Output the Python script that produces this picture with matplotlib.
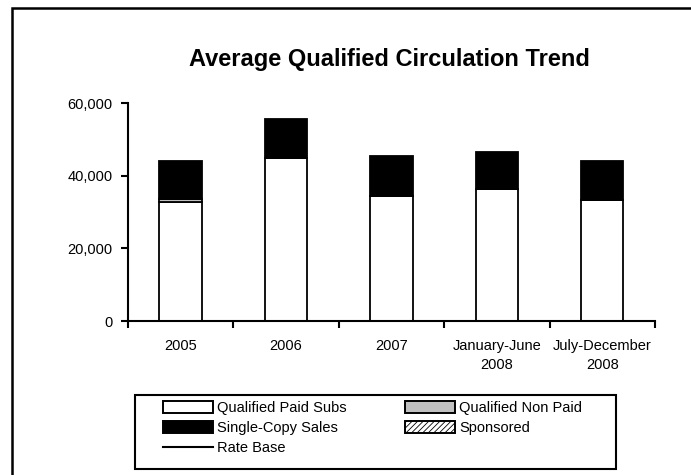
import matplotlib
matplotlib.use("Agg")
import matplotlib.pyplot as plt
from matplotlib.patches import Patch, Rectangle
from matplotlib.lines import Line2D
from matplotlib.ticker import FuncFormatter
import numpy as np

plt.rcParams['font.family'] = ['Liberation Sans', 'DejaVu Sans']
plt.rcParams['hatch.linewidth'] = 0.6

categories = ['2005', '2006', '2007', 'January-June\n2008', 'July-December\n2008']
paid_subs = [32800, 44850, 34460, 36380, 33200]
non_paid = [900, 0, 0, 0, 0]
sponsored = [0, 0, 0, 0, 0]
single_copy = [10330, 10780, 10860, 10220, 10940]

fig = plt.figure(figsize=(6.91, 4.75), dpi=100)
ax = fig.add_axes([0.185, 0.324, 0.763, 0.459])

x = np.arange(len(categories))
w = 0.40
edge = dict(edgecolor='black', linewidth=1.3)

bottom = np.zeros(len(categories))
ax.bar(x, paid_subs, w, bottom=bottom, color='white', **edge)
bottom += paid_subs
ax.bar(x, non_paid, w, bottom=bottom, color='#c0c0c0', **edge)
bottom += non_paid
ax.bar(x, sponsored, w, bottom=bottom, color='white', hatch='//////', **edge)
bottom += sponsored
ax.bar(x, single_copy, w, bottom=bottom, color='black', **edge)

ax.set_xlim(-0.5, len(categories) - 0.5)
ax.set_ylim(0, 60000)
ax.set_yticks([0, 20000, 40000, 60000])
ax.yaxis.set_major_formatter(FuncFormatter(lambda v, p: f'{int(v):,}'))

# tick marks on the category boundaries, labels at the centres
ax.set_xticks(np.arange(len(categories) + 1) - 0.5)
ax.set_xticklabels([])
ax.set_xticks(x, minor=True)
ax.set_xticklabels(categories, minor=True, fontsize=10.5, linespacing=1.45)
ax.tick_params(axis='x', which='minor', length=0, pad=13)
ax.tick_params(axis='x', which='major', length=5, width=1.5, direction='out')
ax.tick_params(axis='y', length=5, width=1.5, direction='out', labelsize=10.5, pad=6)

for s in ['top', 'right']:
    ax.spines[s].set_visible(False)
for s in ['left', 'bottom']:
    ax.spines[s].set_linewidth(1.5)

fig.text(0.563, 0.874, 'Average Qualified Circulation Trend', ha='center', va='center',
         fontsize=17, fontweight='bold')

handles = [
    Patch(facecolor='white', edgecolor='black', linewidth=1.4, label='Qualified Paid Subs'),
    Patch(facecolor='black', edgecolor='black', linewidth=1.4, label='Single-Copy Sales'),
    Line2D([], [], color='black', linewidth=1.5, label='Rate Base'),
    Patch(facecolor='#c0c0c0', edgecolor='black', linewidth=1.4, label='Qualified Non Paid'),
    Patch(facecolor='white', edgecolor='black', linewidth=1.4, hatch='//////', label='Sponsored'),
]
leg = fig.legend(handles=handles, ncol=2, loc='upper left',
                 bbox_to_anchor=(163 / 691, 1 - 401 / 475),
                 fontsize=10.5, frameon=False,
                 handlelength=3.43, handleheight=0.82, handletextpad=0.28,
                 labelspacing=0.42, columnspacing=4.0, borderpad=0, borderaxespad=0)

# legend frame
fig.patches.append(Rectangle((135 / 691, 1 - 469 / 475), 481 / 691, 74 / 475,
                             transform=fig.transFigure, fill=False,
                             edgecolor='black', linewidth=1.5))

# outer chart-area border, cut off at the right and bottom edges
fig.patches.append(Rectangle((11.5 / 691, -0.1), 1.2, 1.1 - 7.5 / 475,
                             transform=fig.transFigure, fill=False,
                             edgecolor='black', linewidth=1.8))

fig.savefig('out.png', dpi=100)
